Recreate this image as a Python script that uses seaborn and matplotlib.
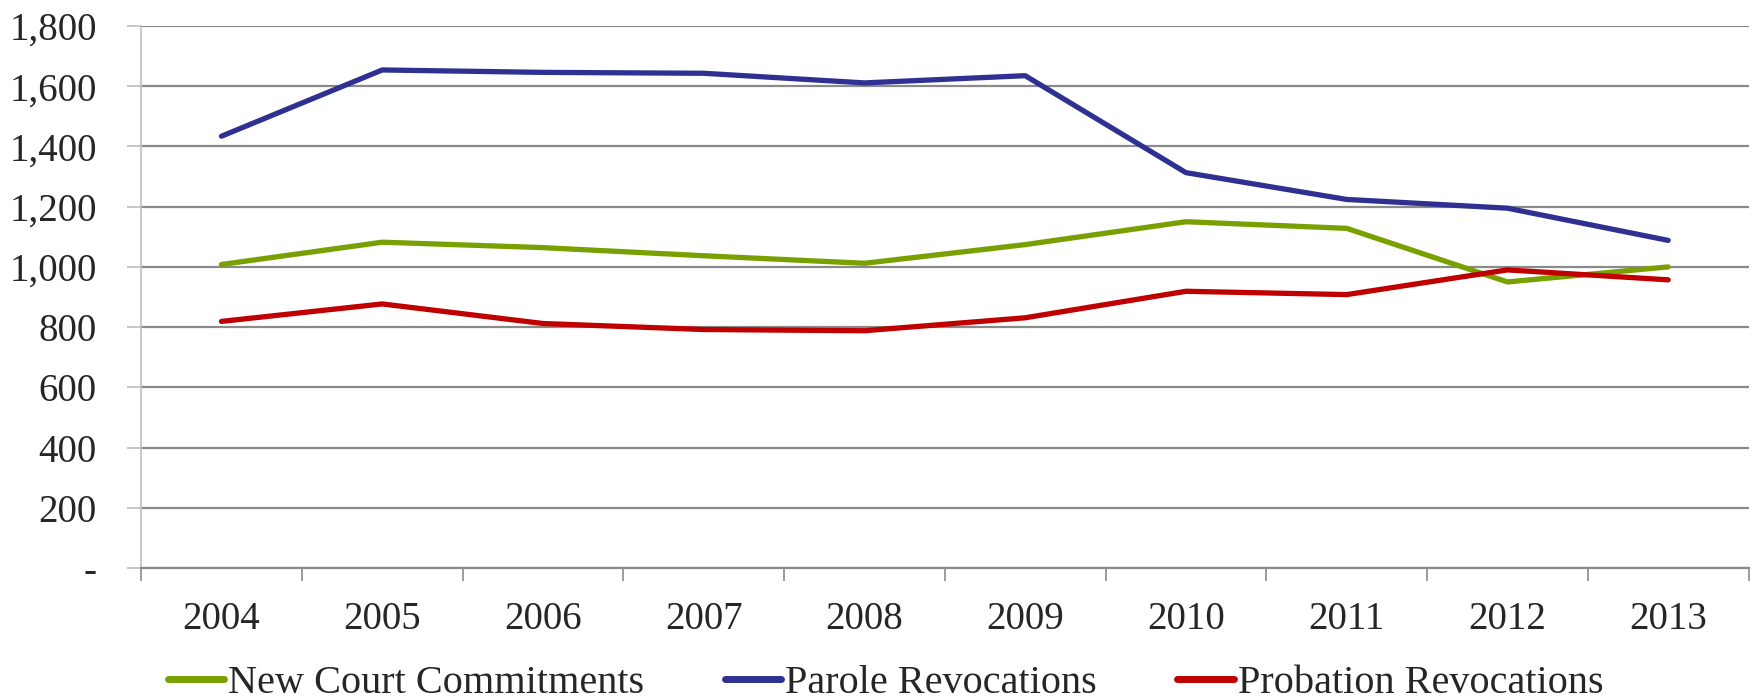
import numpy as np
import pandas as pd
import matplotlib
matplotlib.use("Agg")
import matplotlib.pyplot as plt
from matplotlib.ticker import FixedLocator, FuncFormatter, MultipleLocator
import seaborn as sns

years = [2004, 2005, 2006, 2007, 2008, 2009, 2010, 2011, 2012, 2013]
new_court = [1008, 1082, 1064, 1037, 1012, 1074, 1150, 1128, 950, 1000]
parole = [1434, 1654, 1646, 1643, 1611, 1635, 1313, 1224, 1195, 1088]
probation = [819, 877, 812, 792, 788, 831, 919, 908, 990, 957]

series_names = ["New Court Commitments", "Parole Revocations", "Probation Revocations"]
colors = ["#77A000", "#2E3192", "#C00000"]

df = pd.DataFrame({
    "year": years * 3,
    "value": new_court + parole + probation,
    "series": np.repeat(series_names, len(years)),
})

sns.set_theme(style="white")
plt.rcParams["font.family"] = ["Liberation Serif", "DejaVu Serif"]

fig = plt.figure(figsize=(17.57, 6.99), dpi=100)
ax = fig.add_axes([0.0803, 0.1874, 0.9149, 0.7754])

sns.lineplot(data=df, x="year", y="value", hue="series", hue_order=series_names,
             palette=colors, linewidth=3.8, ax=ax, legend=True)

ax.set_xlim(years[0] - 0.5, years[-1] + 0.5)
ax.set_ylim(0, 1800)
ax.yaxis.set_major_locator(MultipleLocator(200))
ax.yaxis.set_major_formatter(FuncFormatter(lambda v, p: "-" if v == 0 else f"{v:,.0f}"))
ax.xaxis.set_major_locator(FixedLocator(years))
ax.xaxis.set_minor_locator(FixedLocator(np.arange(len(years) + 1) + years[0] - 0.5))
ax.set_xticklabels([str(y) for y in years])

ax.grid(axis="y", color="#8a8a8a", linewidth=1.6)
ax.set_axisbelow(True)
for side in ["top", "right"]:
    ax.spines[side].set_visible(False)
ax.spines["left"].set_color("#bfbfbf")
ax.spines["left"].set_linewidth(1.2)
ax.spines["bottom"].set_color("#8a8a8a")
ax.spines["bottom"].set_linewidth(1.6)

ax.tick_params(axis="y", which="major", length=10, width=1.2, color="#bfbfbf",
               pad=22, labelsize=28, left=True)
ax.tick_params(axis="x", which="major", length=0, pad=24, labelsize=28, bottom=True)
ax.tick_params(axis="x", which="minor", length=9, width=1.2, color="#8a8a8a", bottom=True)
ax.set_xlabel("")
ax.set_ylabel("")

handles, labels = ax.get_legend_handles_labels()
leg = ax.legend(handles, labels, loc="center", bbox_to_anchor=(0.504, 0.022),
                bbox_transform=fig.transFigure, ncol=3, frameon=False, fontsize=29,
                handlelength=1.4, handletextpad=0.1, columnspacing=2.0)
for line in leg.get_lines():
    line.set_linewidth(5)

fig.savefig("out.png", dpi=100)
